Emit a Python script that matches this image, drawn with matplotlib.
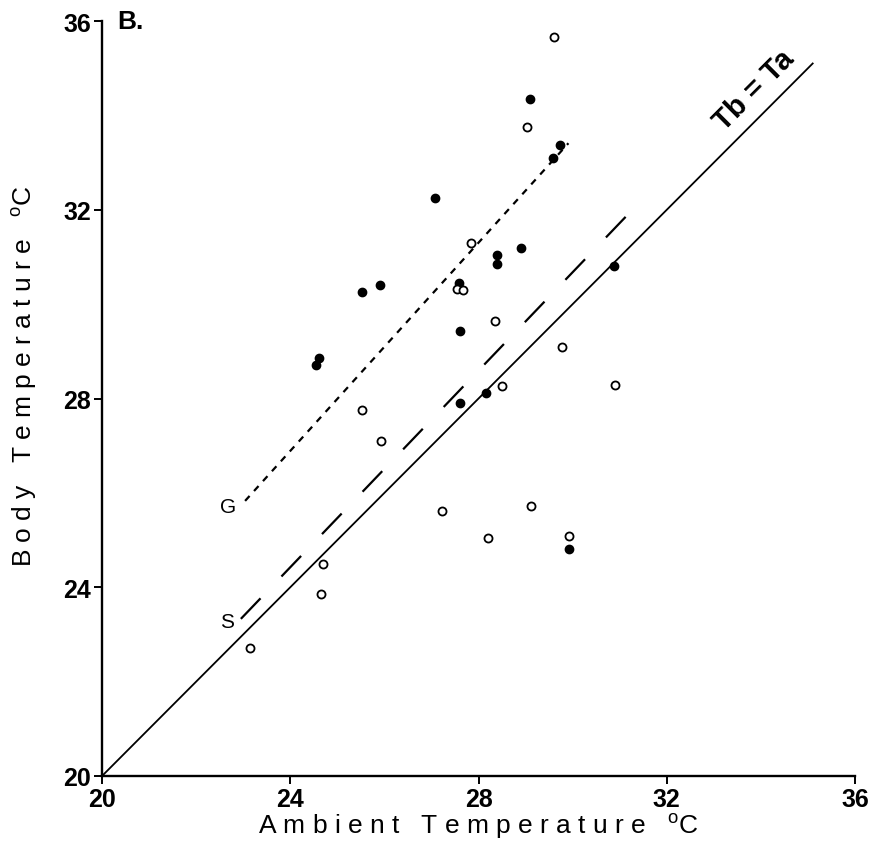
import matplotlib.pyplot as plt
import numpy as np

plt.rcParams['font.family'] = ['Liberation Sans', 'DejaVu Sans']
plt.rcParams['mathtext.fontset'] = 'custom'
plt.rcParams['mathtext.rm'] = 'Liberation Sans'

# puntos rellenos
filled_x = [27.08, 28.90, 28.40, 28.40, 27.59, 25.91, 25.53, 27.61, 24.61, 24.55,
            30.88, 28.16, 27.61, 29.10, 29.73, 29.58, 29.92]
filled_y = [32.25, 31.19, 31.05, 30.84, 30.45, 30.40, 30.25, 29.43, 28.86, 28.72,
            30.80, 28.12, 27.91, 34.34, 33.38, 33.10, 24.81]

# puntos abiertos
open_x = [27.83, 27.55, 27.68, 28.36, 29.77, 28.49, 30.91, 25.52, 25.92, 29.61,
          29.03, 27.22, 29.12, 28.21, 29.93, 24.69, 24.65, 23.15]
open_y = [31.29, 30.32, 30.31, 29.64, 29.10, 28.27, 28.29, 27.75, 27.10, 35.67,
          33.76, 25.61, 25.73, 25.05, 25.08, 24.49, 23.85, 22.71]

# rectas
g_x = [23.04, 29.91]
g_y = [25.83, 33.41]
s_x = [22.95, 31.27]
s_y = [23.33, 32.00]
id_x = [20, 35.1]

ticks = [20, 24, 28, 32, 36]

fig = plt.figure(figsize=(8.75, 8.53), dpi=100)
ax = fig.add_axes([0.1166, 0.0891, 0.8606, 0.8851])

ax.plot(id_x, id_x, color='black', linewidth=1.3)
ax.plot(g_x, g_y, color='black', linewidth=1.6, linestyle=(0, (3.0, 3.0)))
ax.plot(s_x, s_y, color='black', linewidth=1.6, linestyle=(0, (12.8, 13.6)))

ax.plot(filled_x, filled_y, 'o', color='black', markersize=6, linestyle='none')
ax.plot(open_x, open_y, 'o', markerfacecolor='white', markeredgecolor='black',
        markeredgewidth=1.3, markersize=5.8, linestyle='none')

ax.text(22.85, 25.72, 'G', fontsize=15, ha='right', va='center')
ax.text(22.80, 23.27, 'S', fontsize=15, ha='right', va='center')
ax.text(33.85, 34.55, 'Tb = Ta', fontsize=21, fontweight='bold',
        rotation=45, ha='center', va='center', rotation_mode='anchor')

ax.set_xlim(20, 36)
ax.set_ylim(20, 36)
ax.set_xticks(ticks)
ax.set_yticks(ticks)
ax.tick_params(labelsize=18, width=1.4, length=5.5, pad=2.5, direction='out')
for lab in ax.get_xticklabels() + ax.get_yticklabels():
    lab.set_fontweight('bold')
ax.spines['top'].set_visible(False)
ax.spines['right'].set_visible(False)
ax.spines['left'].set_linewidth(1.7)
ax.spines['bottom'].set_linewidth(1.7)

ax.set_xlabel('A m b i e n t   T e m p e r a t u r e   $^\\mathregular{o}$C', fontsize=19)
ax.set_ylabel('B o d y   T e m p e r a t u r e   $^\\mathregular{o}$C', fontsize=19)
ax.xaxis.set_label_coords(0.5, -0.045)
ax.yaxis.set_label_coords(-0.084, 0.531)

fig.text(0.134, 0.974, 'B.', fontsize=19, fontweight='bold', ha='left', va='center')

fig.savefig('out.png', dpi=100)
